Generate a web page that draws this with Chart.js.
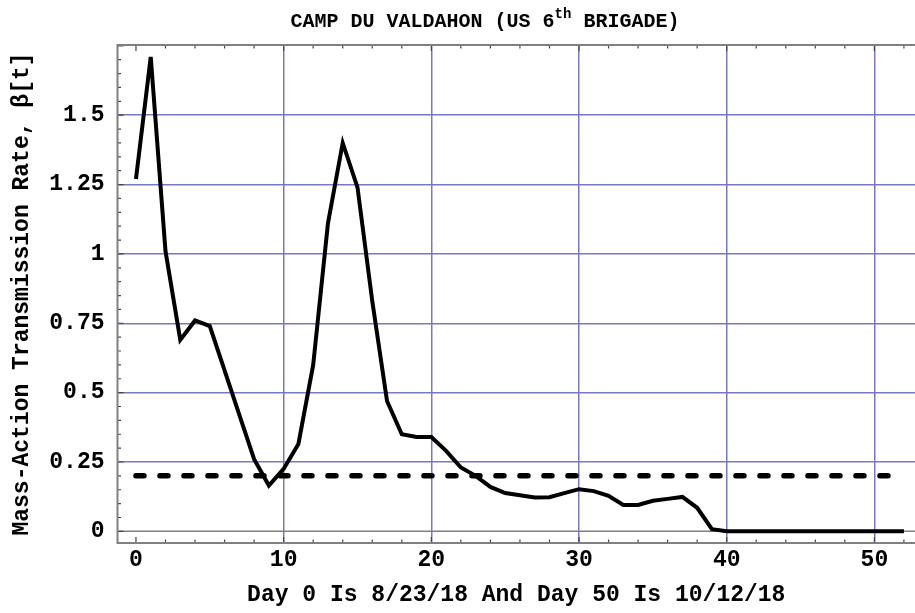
<!DOCTYPE html>
<html>
<head>
<meta charset="utf-8">
<script src="https://cdn.jsdelivr.net/npm/chart.js@4/dist/chart.umd.min.js"></script>
<style>
  html, body { margin: 0; padding: 0; background: #fff; }
  #wrap { width: 915px; height: 613px; position: relative; }
</style>
</head>
<body>
<div id="wrap"><canvas id="chart"></canvas></div>
<script>
// data
const days = [0,1,2,3,4,5,6,7,8,9,10,11,12,13,14,15,16,17,18,19,20,21,22,23,24,25,26,
  27,28,29,30,31,32,33,34,35,36,37,38,39,40,41,42,43,44,45,46,47,48,49,50,51,52];
const beta = [1.27,1.71,1.01,0.69,0.76,0.74,0.58,0.42,0.26,0.165,0.225,0.315,0.60,1.11,
  1.40,1.24,0.83,0.47,0.35,0.34,0.34,0.29,0.23,0.20,0.16,0.138,0.13,0.122,0.123,0.138,
  0.152,0.145,0.128,0.095,0.095,0.11,0.117,0.124,0.085,0.008,0,0,0,0,0,0,0,0,0,0,0,0,0];
const thresholdDays = [0, 52];
const thresholdValue = 0.2;

const xTicks = [0, 10, 20, 30, 40, 50];
const yTicks = [0, 0.25, 0.5, 0.75, 1, 1.25, 1.5];
const yTickLabels = ["0", "0.25", "0.5", "0.75", "1", "1.25", "1.5"];

const titleMain = "CAMP DU VALDAHON (US 6";
const titleSup = "th";
const titleEnd = " BRIGADE)";
const xTitle = "Day 0 Is 8/23/18 And Day 50 Is 10/12/18";
const yTitle = "Mass-Action Transmission Rate, β[t]";

const FONT = "'Liberation Mono', 'DejaVu Sans Mono', monospace";
const GRID = "#7878bc";
const FRAME = "#808080";
const TXT = 23;

// frame, inward tick marks, y=0 axis line and title with superscript
const framePlugin = {
  id: "frame",
  beforeDatasetsDraw(chart) {
    const { ctx, chartArea: a, scales: { x, y } } = chart;
    ctx.save();
    // axis at y = 0
    ctx.strokeStyle = FRAME;
    ctx.lineWidth = 1.5;
    ctx.beginPath();
    ctx.moveTo(a.left, y.getPixelForValue(0));
    ctx.lineTo(a.right, y.getPixelForValue(0));
    ctx.stroke();

    ctx.strokeStyle = "#444";
    ctx.lineWidth = 1.2;
    ctx.beginPath();
    for (let v = 0; v <= x.max; v += 2) {
      const px = x.getPixelForValue(v);
      const len = v % 10 === 0 ? 6 : 3.5;
      ctx.moveTo(px, a.bottom); ctx.lineTo(px, a.bottom - len);
      ctx.moveTo(px, a.top); ctx.lineTo(px, a.top + len);
    }
    for (let i = 0; i * 0.05 <= y.max; i++) {
      const py = y.getPixelForValue(i * 0.05);
      const len = i % 5 === 0 ? 6 : 3.5;
      ctx.moveTo(a.left, py); ctx.lineTo(a.left + len, py);
    }
    ctx.stroke();

    ctx.strokeStyle = FRAME;
    ctx.lineWidth = 2;
    ctx.strokeRect(a.left, a.top, a.right - a.left + 5, a.bottom - a.top);
    ctx.restore();
  },
  afterDraw(chart) {
    const { ctx } = chart;
    ctx.save();
    ctx.fillStyle = "#000";
    ctx.textBaseline = "alphabetic";
    const big = "bold 20px " + FONT, small = "bold 14px " + FONT;
    ctx.font = big;
    const w1 = ctx.measureText(titleMain).width;
    const w3 = ctx.measureText(titleEnd).width;
    ctx.font = small;
    const w2 = ctx.measureText(titleSup).width;
    let tx = 485 - (w1 + w2 + w3) / 2;
    const ty = 27;
    ctx.font = big;
    ctx.fillText(titleMain, tx, ty);
    tx += w1;
    ctx.font = small;
    ctx.fillText(titleSup, tx, ty - 9);
    tx += w2;
    ctx.font = big;
    ctx.fillText(titleEnd, tx, ty);
    ctx.restore();
  }
};

new Chart(document.getElementById("chart"), {
  type: "line",
  data: {
    datasets: [
      {
        label: "beta",
        data: days.map((d, i) => ({ x: d, y: beta[i] })),
        borderColor: "#000",
        borderWidth: 4,
        pointRadius: 0,
        tension: 0,
        borderJoinStyle: "miter"
      },
      {
        label: "threshold",
        data: thresholdDays.map(d => ({ x: d, y: thresholdValue })),
        borderColor: "#000",
        borderWidth: 5.5,
        borderDash: [8, 16],
        borderCapStyle: "round",
        pointRadius: 0
      }
    ]
  },
  options: {
    responsive: true,
    maintainAspectRatio: false,
    animation: false,
    layout: { padding: { top: 45, right: 0, left: 0, bottom: 0 } },
    plugins: { legend: { display: false }, tooltip: { enabled: false } },
    scales: {
      x: {
        type: "linear",
        min: -1.25,
        max: 52.75,
        afterBuildTicks: s => { s.ticks = xTicks.map(v => ({ value: v })); },
        afterFit: s => { s.height = 70; },
        grid: {
          color: c => (c.tick && c.tick.value === 0 ? "rgba(0,0,0,0)" : GRID),
          lineWidth: 1.5,
          drawTicks: false
        },
        border: { display: false },
        ticks: {
          color: "#000",
          font: { family: FONT, weight: "bold", size: TXT },
          padding: 3,
          maxRotation: 0,
          callback: v => String(v)
        },
        title: {
          display: true,
          text: xTitle,
          color: "#000",
          font: { family: FONT, weight: "bold", size: TXT },
          padding: { top: 0, bottom: 4 }
        }
      },
      y: {
        type: "linear",
        min: -0.042,
        max: 1.753,
        afterBuildTicks: s => { s.ticks = yTicks.map(v => ({ value: v })); },
        afterFit: s => { s.width = 117.5; },
        grid: {
          color: c => (c.tick && c.tick.value === 0 ? "rgba(0,0,0,0)" : GRID),
          lineWidth: 1.5,
          drawTicks: false
        },
        border: { display: false },
        ticks: {
          color: "#000",
          font: { family: FONT, weight: "bold", size: TXT },
          padding: 13,
          callback: (v) => yTickLabels[yTicks.indexOf(v)] ?? ""
        },
        title: {
          display: true,
          text: yTitle,
          color: "#000",
          font: { family: FONT, weight: "bold", size: TXT },
          padding: { top: 8, bottom: 0 }
        }
      }
    }
  },
  plugins: [framePlugin]
});
</script>
</body>
</html>
